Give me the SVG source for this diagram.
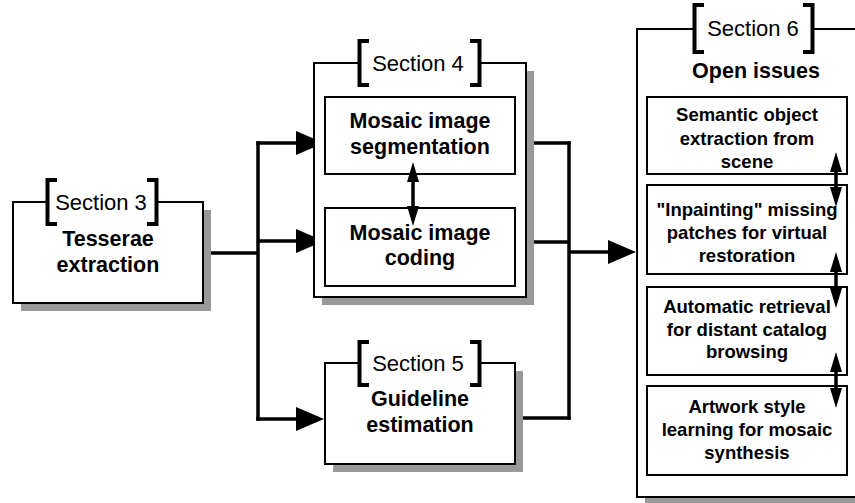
<svg xmlns="http://www.w3.org/2000/svg" width="855" height="503" viewBox="0 0 855 503">
<style>
.box{fill:#fff;stroke:#000;stroke-width:2}
.shadow{fill:#999;stroke:none}
.gap{fill:#fff;stroke:none}
.br{fill:none;stroke:#000;stroke-width:4;stroke-linejoin:miter;stroke-linecap:butt}
.sec{font-family:"Liberation Sans",Arial,sans-serif;font-size:22px;text-anchor:middle;fill:#000}
.t{font-family:"Liberation Sans",Arial,sans-serif;font-size:21.5px;font-weight:bold;text-anchor:middle;fill:#000}
.s{font-family:"Liberation Sans",Arial,sans-serif;font-size:18.5px;font-weight:bold;text-anchor:middle;fill:#000}
.ln{fill:none;stroke:#000;stroke-width:3.5}
</style>
<defs>
<marker id="big" viewBox="0 0 28 24" refX="16" refY="12" markerWidth="28" markerHeight="24" markerUnits="userSpaceOnUse" orient="auto">
<path d="M0,0 L28,12 L0,24 Z" fill="#000"/>
</marker>
<marker id="sm" viewBox="0 0 20 12" refX="12" refY="6" markerWidth="20" markerHeight="12" markerUnits="userSpaceOnUse" orient="auto-start-reverse">
<path d="M0,0 L20,6 L0,12 Z" fill="#000"/>
</marker>
</defs>

<g id="connectors">
<path class="ln" d="M203,253 H258"/>
<path class="ln" d="M258,141.25 V420.75"/>
<path class="ln" d="M256.25,143 H312" marker-end="url(#big)"/>
<path class="ln" d="M258,241 H312" marker-end="url(#big)"/>
<path class="ln" d="M256.25,419 H312" marker-end="url(#big)"/>
<path class="ln" d="M515,143 H570.75"/>
<path class="ln" d="M515,242 H569"/>
<path class="ln" d="M515,418 H570.75"/>
<path class="ln" d="M569,141.25 V419.75"/>
<path class="ln" d="M569,252 H624" marker-end="url(#big)"/>
</g>

<g id="section3">
<rect class="shadow" x="21" y="210" width="190" height="101"/>
<rect class="box" x="13" y="202" width="190" height="101"/>
<rect class="gap" x="48" y="198" width="108" height="8"/>
<path class="br" d="M57,180 H47.5 V224 H57"/>
<path class="br" d="M147,180 H156.5 V224 H147"/>
<text class="sec" x="101" y="210">Section 3</text>
<text class="t" x="108" y="246">Tesserae</text>
<text class="t" x="108" y="272">extraction</text>
</g>

<g id="section4">
<rect class="shadow" x="322" y="71" width="212" height="234"/>
<rect class="box" x="314" y="63" width="212" height="234"/>
<rect class="gap" x="360" y="59" width="119" height="8"/>
<path class="br" d="M369,41 H359.5 V85 H369"/>
<path class="br" d="M470,41 H479.5 V85 H470"/>
<text class="sec" x="418" y="71">Section 4</text>
</g>

<g id="segmentation">
<rect class="box" x="325" y="97" width="190" height="77"/>
<text class="t" x="420" y="128">Mosaic image</text>
<text class="t" x="420" y="154">segmentation</text>
</g>

<g id="coding">
<rect class="box" x="325" y="208" width="190" height="78"/>
<text class="t" x="420" y="240">Mosaic image</text>
<text class="t" x="420" y="265">coding</text>
</g>

<g id="seg-coding-link">
<path class="ln" d="M413,170 V218" marker-start="url(#sm)" marker-end="url(#sm)"/>
</g>

<g id="section5">
<rect class="shadow" x="333" y="371" width="190" height="101"/>
<rect class="box" x="325" y="363" width="190" height="101"/>
<rect class="gap" x="360" y="359" width="119" height="8"/>
<path class="br" d="M369,342 H359.5 V385 H369"/>
<path class="br" d="M470,342 H479.5 V385 H470"/>
<text class="sec" x="418" y="371">Section 5</text>
<text class="t" x="420" y="406">Guideline</text>
<text class="t" x="420" y="432">estimation</text>
</g>

<g id="section6">
<rect class="shadow" x="645" y="37" width="240" height="470"/>
<rect class="box" x="637" y="29" width="240" height="468"/>
<rect class="gap" x="695" y="25" width="117" height="8"/>
<path class="br" d="M704,5 H694.5 V52 H704"/>
<path class="br" d="M803,5 H812.5 V52 H803"/>
<text class="sec" x="753" y="36">Section 6</text>
<text class="t" x="756" y="78">Open issues</text>
</g>

<g id="semantic">
<rect class="box" x="647" y="97" width="200" height="77"/>
<text class="s" x="747" y="121">Semantic object</text>
<text class="s" x="747" y="145">extraction from</text>
<text class="s" x="747" y="168">scene</text>
</g>

<g id="inpainting">
<rect class="box" x="647" y="185" width="200" height="89"/>
<text class="s" x="747" y="216">"Inpainting" missing</text>
<text class="s" x="747" y="239">patches for virtual</text>
<text class="s" x="747" y="262">restoration</text>
</g>

<g id="retrieval">
<rect class="box" x="647" y="287" width="200" height="88"/>
<text class="s" x="747" y="313">Automatic retrieval</text>
<text class="s" x="747" y="336">for distant catalog</text>
<text class="s" x="747" y="358">browsing</text>
</g>

<g id="artwork">
<rect class="box" x="647" y="386" width="200" height="89"/>
<text class="s" x="747" y="413">Artwork style</text>
<text class="s" x="747" y="436">learning for mosaic</text>
<text class="s" x="747" y="459">synthesis</text>
</g>

<g id="open-issue-links">
<path class="ln" d="M836,160 V199" marker-start="url(#sm)" marker-end="url(#sm)"/>
<path class="ln" d="M836,260 V300" marker-start="url(#sm)" marker-end="url(#sm)"/>
<path class="ln" d="M836,360 V400" marker-start="url(#sm)" marker-end="url(#sm)"/>
</g>
</svg>
